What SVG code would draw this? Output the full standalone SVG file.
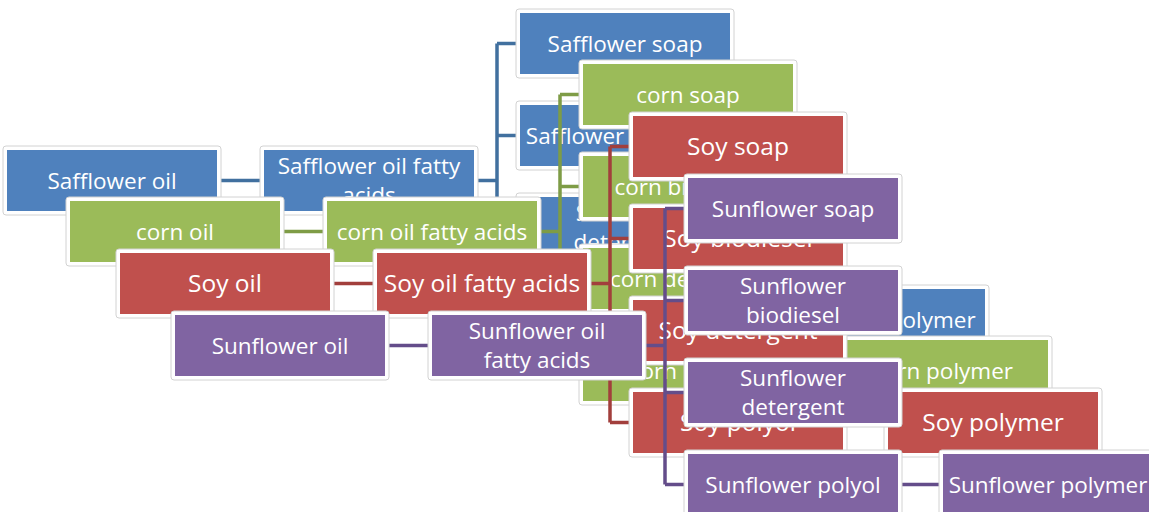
<svg xmlns="http://www.w3.org/2000/svg" width="1149" height="512" viewBox="0 0 1149 512">
<style>
.f{fill:#fff;stroke:#d2d2d2;stroke-width:1}
.b{fill:#4F81BD}.g{fill:#9BBB59}.r{fill:#C0504D}.p{fill:#8064A2}
.t{font-family:"Open Sans","Noto Sans",sans-serif;font-size:22.5px;fill:#fff;text-anchor:middle}
.soy .t{font-size:24.5px}
.c{fill:none;stroke-width:3.5}
.cb{stroke:#41709F}.cg{stroke:#7E9C46}.cr{stroke:#A23F3C}.cp{stroke:#644D8A}
</style>
<rect width="1149" height="512" fill="#fff"/>

<!-- Safflower -->
<g id="safflower">
<g id="safflower-connectors" class="c cb">
<path d="M217,180.5H264M474,180.5H497M497,43.5V319.5M497,43.5H520M497,135.5H520M497,227.5H520M497,319.5H520M730,319.5H775"/>
</g>
<g id="safflower-oil"><rect class="f" x="3" y="146" width="218" height="69" rx="3"/><rect class="b" x="7" y="150" width="210" height="61"/><text class="t" x="112" y="188.5">Safflower oil</text></g>
<g id="safflower-fatty-acids"><rect class="f" x="260" y="146" width="218" height="69" rx="3"/><rect class="b" x="264" y="150" width="210" height="61"/><text class="t" x="369" y="173.5">Safflower oil fatty</text><text class="t" x="369" y="202.5">acids</text></g>
<g id="safflower-soap"><rect class="f" x="516" y="9" width="218" height="69" rx="3"/><rect class="b" x="520" y="13" width="210" height="61"/><text class="t" x="625" y="51.5">Safflower soap</text></g>
<g id="safflower-biodiesel"><rect class="f" x="516" y="101" width="218" height="69" rx="3"/><rect class="b" x="520" y="105" width="210" height="61"/><text class="t" x="625" y="143.5">Safflower biodiesel</text></g>
<g id="safflower-detergent"><rect class="f" x="516" y="193" width="218" height="69" rx="3"/><rect class="b" x="520" y="197" width="210" height="61"/><text class="t" x="625" y="220.5">Safflower</text><text class="t" x="625" y="249.5">detergent</text></g>
<g id="safflower-polyol"><rect class="f" x="516" y="285" width="218" height="69" rx="3"/><rect class="b" x="520" y="289" width="210" height="61"/><text class="t" x="625" y="327.5">Safflower polyol</text></g>
<g id="safflower-polymer"><rect class="f" x="771" y="285" width="218" height="69" rx="3"/><rect class="b" x="775" y="289" width="210" height="61"/><text class="t" x="880" y="327.5">Safflower polymer</text></g>
</g>

<!-- Corn -->
<g id="corn" transform="translate(63,51)">
<g id="corn-connectors" class="c cg">
<path d="M217,180.5H264M474,180.5H497M497,43.5V319.5M497,43.5H520M497,135.5H520M497,227.5H520M497,319.5H520M730,319.5H775"/>
</g>
<g id="corn-oil"><rect class="f" x="3" y="146" width="218" height="69" rx="3"/><rect class="g" x="7" y="150" width="210" height="61"/><text class="t" x="112" y="188.5">corn oil</text></g>
<g id="corn-fatty-acids"><rect class="f" x="260" y="146" width="218" height="69" rx="3"/><rect class="g" x="264" y="150" width="210" height="61"/><text class="t" x="369" y="188.5">corn oil fatty acids</text></g>
<g id="corn-soap"><rect class="f" x="516" y="9" width="218" height="69" rx="3"/><rect class="g" x="520" y="13" width="210" height="61"/><text class="t" x="625" y="51.5">corn soap</text></g>
<g id="corn-biodiesel"><rect class="f" x="516" y="101" width="218" height="69" rx="3"/><rect class="g" x="520" y="105" width="210" height="61"/><text class="t" x="625" y="143.5">corn biodiesel</text></g>
<g id="corn-detergent"><rect class="f" x="516" y="193" width="218" height="69" rx="3"/><rect class="g" x="520" y="197" width="210" height="61"/><text class="t" x="625" y="235.5">corn detergent</text></g>
<g id="corn-polyol"><rect class="f" x="516" y="285" width="218" height="69" rx="3"/><rect class="g" x="520" y="289" width="210" height="61"/><text class="t" x="625" y="327.5">corn polyol</text></g>
<g id="corn-polymer"><rect class="f" x="771" y="285" width="218" height="69" rx="3"/><rect class="g" x="775" y="289" width="210" height="61"/><text class="t" x="880" y="327.5">corn polymer</text></g>
</g>

<!-- Soy -->
<g id="soy" class="soy" transform="translate(113,103)">
<g id="soy-connectors" class="c cr">
<path d="M217,180.5H264M474,180.5H497M497,43.5V319.5M497,43.5H520M497,135.5H520M497,227.5H520M497,319.5H520M730,319.5H775"/>
</g>
<g id="soy-oil"><rect class="f" x="3" y="146" width="218" height="69" rx="3"/><rect class="r" x="7" y="150" width="210" height="61"/><text class="t" x="112" y="189">Soy oil</text></g>
<g id="soy-fatty-acids"><rect class="f" x="260" y="146" width="218" height="69" rx="3"/><rect class="r" x="264" y="150" width="210" height="61"/><text class="t" x="369" y="189">Soy oil fatty acids</text></g>
<g id="soy-soap"><rect class="f" x="516" y="9" width="218" height="69" rx="3"/><rect class="r" x="520" y="13" width="210" height="61"/><text class="t" x="625" y="52">Soy soap</text></g>
<g id="soy-biodiesel"><rect class="f" x="516" y="101" width="218" height="69" rx="3"/><rect class="r" x="520" y="105" width="210" height="61"/><text class="t" x="625" y="144">Soy biodiesel</text></g>
<g id="soy-detergent"><rect class="f" x="516" y="193" width="218" height="69" rx="3"/><rect class="r" x="520" y="197" width="210" height="61"/><text class="t" x="625" y="236">Soy detergent</text></g>
<g id="soy-polyol"><rect class="f" x="516" y="285" width="218" height="69" rx="3"/><rect class="r" x="520" y="289" width="210" height="61"/><text class="t" x="625" y="328">Soy polyol</text></g>
<g id="soy-polymer"><rect class="f" x="771" y="285" width="218" height="69" rx="3"/><rect class="r" x="775" y="289" width="210" height="61"/><text class="t" x="880" y="328">Soy polymer</text></g>
</g>

<!-- Sunflower -->
<g id="sunflower" transform="translate(168,165)">
<g id="sunflower-connectors" class="c cp">
<path d="M217,180.5H264M474,180.5H497M497,43.5V319.5M497,43.5H520M497,135.5H520M497,227.5H520M497,319.5H520M730,319.5H775"/>
</g>
<g id="sunflower-oil"><rect class="f" x="3" y="146" width="218" height="69" rx="3"/><rect class="p" x="7" y="150" width="210" height="61"/><text class="t" x="112" y="188.5">Sunflower oil</text></g>
<g id="sunflower-fatty-acids"><rect class="f" x="260" y="146" width="218" height="69" rx="3"/><rect class="p" x="264" y="150" width="210" height="61"/><text class="t" x="369" y="173.5">Sunflower oil</text><text class="t" x="369" y="202.5">fatty acids</text></g>
<g id="sunflower-soap"><rect class="f" x="516" y="9" width="218" height="69" rx="3"/><rect class="p" x="520" y="13" width="210" height="61"/><text class="t" x="625" y="51.5">Sunflower soap</text></g>
<g id="sunflower-biodiesel"><rect class="f" x="516" y="101" width="218" height="69" rx="3"/><rect class="p" x="520" y="105" width="210" height="61"/><text class="t" x="625" y="128.5">Sunflower</text><text class="t" x="625" y="157.5">biodiesel</text></g>
<g id="sunflower-detergent"><rect class="f" x="516" y="193" width="218" height="69" rx="3"/><rect class="p" x="520" y="197" width="210" height="61"/><text class="t" x="625" y="220.5">Sunflower</text><text class="t" x="625" y="249.5">detergent</text></g>
<g id="sunflower-polyol"><rect class="f" x="516" y="285" width="218" height="69" rx="3"/><rect class="p" x="520" y="289" width="210" height="61"/><text class="t" x="625" y="327.5">Sunflower polyol</text></g>
<g id="sunflower-polymer"><rect class="f" x="771" y="285" width="218" height="69" rx="3"/><rect class="p" x="775" y="289" width="210" height="61"/><text class="t" x="880" y="327.5">Sunflower polymer</text></g>
</g>
</svg>
